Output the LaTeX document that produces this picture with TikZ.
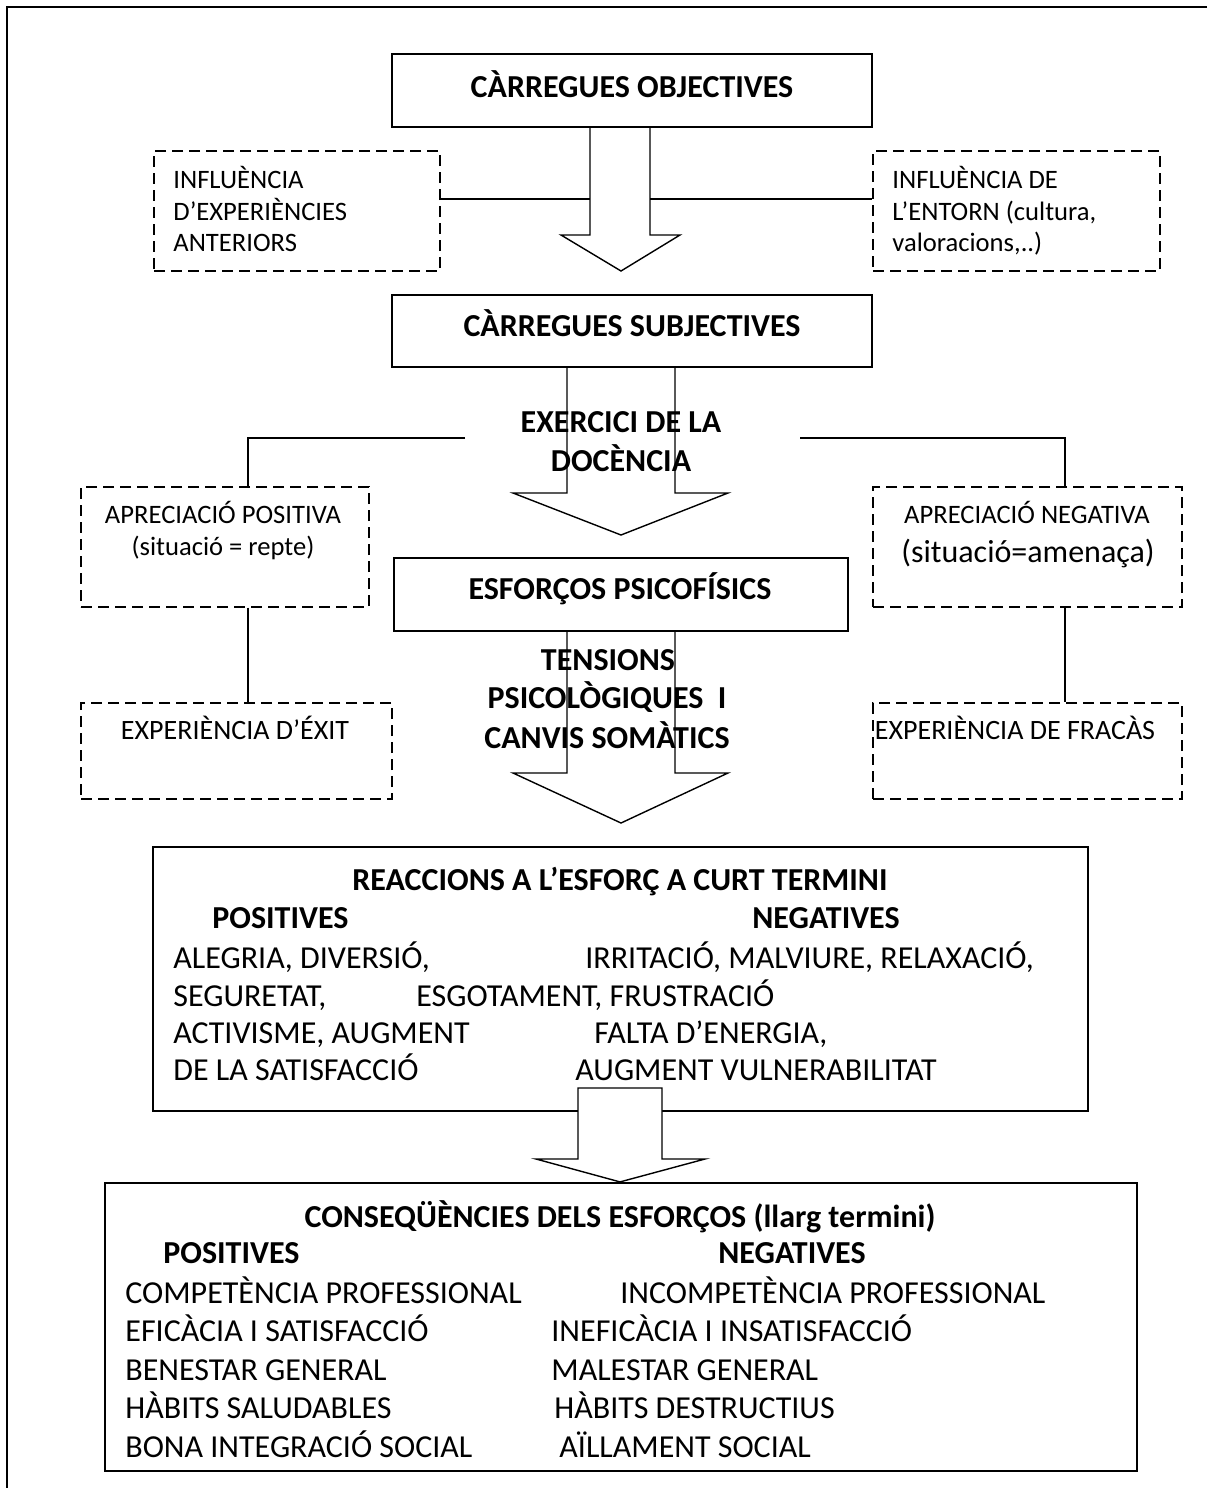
\documentclass[tikz,border=0pt]{standalone}
\usepackage{fontspec}
\setmainfont{Carlito}
\begin{document}
\begin{tikzpicture}[x=0.5pt,y=-0.5pt,
  solidbox/.style={draw, line width=1.1pt, fill=white, inner sep=0pt},
  dashbox/.style={draw, line width=0.7pt, dash pattern=on 5.5pt off 3pt, inner sep=0pt},
  link/.style={line width=0.7pt},
  blockarrow/.style={draw, line width=0.7pt, fill=white, line join=miter},
  ttl/.style={font=\fontsize{16}{19}\bfseries\selectfont, inner sep=0pt, anchor=base},
  hd/.style={font=\fontsize{16}{19}\bfseries\selectfont, inner sep=0pt, anchor=base west},
  body/.style={font=\fontsize{16}{19}\selectfont, inner sep=0pt, anchor=base west},
  note/.style={font=\fontsize{13.3}{16}\selectfont, inner sep=0pt, anchor=base west},
  notec/.style={font=\fontsize{13.3}{16}\selectfont, inner sep=0pt, anchor=base},
  notebig/.style={font=\fontsize{14}{17}\selectfont, inner sep=0pt, anchor=base},
]
\useasboundingbox (0,0) rectangle (1207,1488);

% open outer frame
\coordinate (frameTL) at (7,7);
\coordinate (frameTR) at (1207,7);
\coordinate (frameBL) at (7,1488);
\draw[line width=1.1pt] (frameTR) -- (frameTL) -- (frameBL);

% main boxes
\node[solidbox, minimum width=240pt, minimum height=36.5pt] (obj) at (632,90.5) {};
\node[solidbox, minimum width=240pt, minimum height=36pt] (subj) at (632,331) {};
\node[solidbox, minimum width=227pt, minimum height=36.5pt] (esf) at (621,594.5) {};
\node[solidbox, minimum width=467.5pt, minimum height=132pt] (reac) at (620.5,979) {};
\node[solidbox, minimum width=516pt, minimum height=144pt] (cons) at (621,1327) {};

% dashed side boxes
\node[dashbox, minimum width=143pt, minimum height=60pt] (expant) at (297,211) {};
\node[dashbox, minimum width=143.5pt, minimum height=60pt] (entorn) at (1016.5,211) {};
\node[dashbox, minimum width=144pt, minimum height=60pt] (apos) at (225,547) {};
\node[dashbox, minimum width=154.5pt, minimum height=60pt] (aneg) at (1027.5,547) {};
\node[dashbox, minimum width=155.5pt, minimum height=48pt] (exit) at (236.5,751) {};
\node[dashbox, minimum width=154.5pt, minimum height=48pt] (fracas) at (1027.5,751) {};

% block arrows
\draw[blockarrow] (obj.south -| 590,0) -- (590,235) -- (561,235) -- (621,271) -- (680,235) -- (650,235) -- (obj.south -| 650,0);
\draw[blockarrow] (subj.south -| 567,0) -- (567,493) -- (513,493) -- (621,535) -- (728,493) -- (675,493) -- (subj.south -| 675,0);
\draw[blockarrow] (esf.south -| 567,0) -- (567,773) -- (513,773) -- (621,823) -- (728,773) -- (675,773) -- (esf.south -| 675,0);
\draw[blockarrow] (578,1088) -- (578,1159) -- (536,1159) -- (cons.north -| 620,0) -- (705,1159) -- (662,1159) -- (662,1088) -- cycle;

% influences joining the first arrow
\coordinate (shaftL) at (590,199);
\coordinate (shaftR) at (650,199);
\draw[link] (shaftL -| expant.east) -- (shaftL);
\draw[link] (shaftR) -- (shaftR -| entorn.west);

% branches from the teaching exercise
\coordinate (exL) at (465,438);
\coordinate (exR) at (800,438);
\draw[link] (exL) -| ([xshift=11.5pt]apos.north);
\draw[link] (exR) -| ([xshift=18.75pt]aneg.north);
\draw[link] ([xshift=11.5pt]apos.south) -- ([xshift=11.5pt]apos.south |- exit.north);
\draw[link] ([xshift=18.75pt]aneg.south) -- ([xshift=18.75pt]aneg.south |- fracas.north);

% box titles
\node[ttl] (objT) at (632,97) {CÀRREGUES OBJECTIVES};
\node[ttl] (subjT) at (632,336) {CÀRREGUES SUBJECTIVES};
\node[ttl] (esfT) at (620,599) {ESFORÇOS PSICOFÍSICS};

% arrow labels
\node[ttl] (ex1) at (621,432) {EXERCICI DE LA};
\node[ttl] (ex2) at (621,471) {DOCÈNCIA};
\node[ttl] (ten1) at (608,670) {TENSIONS};
\node[ttl] (ten2) at (607,708) {PSICOLÒGIQUES\ \ I};
\node[ttl] (ten3) at (607,748) {CANVIS SOMÀTICS};

% dashed box texts
\node[note] (ea1) at (173,188) {INFLUÈNCIA};
\node[note] (ea2) at (173,220) {D’EXPERIÈNCIES};
\node[note] (ea3) at (173,251) {ANTERIORS};
\node[note] (en1) at (892,188) {INFLUÈNCIA DE};
\node[note] (en2) at (892,220) {L’ENTORN (cultura,};
\node[note] (en3) at (892,251) {valoracions,..)};
\node[notec] (ap1) at (223,523) {APRECIACIÓ POSITIVA};
\node[notec] (ap2) at (223,555) {(situació = repte)};
\node[notec] (an1) at (1027,523) {APRECIACIÓ NEGATIVA};
\node[ttl, font=\fontsize{16}{19}\selectfont] (an2) at (1028,562) {(situació=amenaça)};
\node[notebig] (exT) at (235,739) {EXPERIÈNCIA D’ÉXIT};
\node[notebig] (frT) at (1015,739) {EXPERIÈNCIA DE FRACÀS};

% short-term reactions
\node[ttl] (reacT) at (620,890) {REACCIONS A L’ESFORÇ A CURT TERMINI};
\node[hd] (rp) at (212,928) {POSITIVES};
\node[hd] (rn) at (752,928) {NEGATIVES};
\node[body] (r1a) at (173,968) {ALEGRIA, DIVERSIÓ,};
\node[body] (r1b) at (585,968) {IRRITACIÓ, MALVIURE, RELAXACIÓ,};
\node[body] (r2a) at (173,1006) {SEGURETAT,};
\node[body] (r2b) at (416,1006) {ESGOTAMENT, FRUSTRACIÓ};
\node[body] (r3a) at (173,1043) {ACTIVISME, AUGMENT};
\node[body] (r3b) at (594,1043) {FALTA D’ENERGIA,};
\node[body] (r4a) at (173,1080) {DE LA SATISFACCIÓ};
\node[body] (r4b) at (575,1080) {AUGMENT VULNERABILITAT};

% long-term consequences
\node[ttl] (consT) at (620,1227) {CONSEQÜÈNCIES DELS ESFORÇOS (llarg termini)};
\node[hd] (cp) at (163,1263) {POSITIVES};
\node[hd] (cn) at (718,1263) {NEGATIVES};
\node[body] (c1a) at (125,1303) {COMPETÈNCIA PROFESSIONAL};
\node[body] (c1b) at (620,1303) {INCOMPETÈNCIA PROFESSIONAL};
\node[body] (c2a) at (125,1341) {EFICÀCIA I SATISFACCIÓ};
\node[body] (c2b) at (551,1341) {INEFICÀCIA I INSATISFACCIÓ};
\node[body] (c3a) at (125,1380) {BENESTAR GENERAL};
\node[body] (c3b) at (551,1380) {MALESTAR GENERAL};
\node[body] (c4a) at (125,1418) {HÀBITS SALUDABLES};
\node[body] (c4b) at (554,1418) {HÀBITS DESTRUCTIUS};
\node[body] (c5a) at (125,1457) {BONA INTEGRACIÓ SOCIAL};
\node[body] (c5b) at (559,1457) {AÏLLAMENT SOCIAL};
\end{tikzpicture}
\end{document}
